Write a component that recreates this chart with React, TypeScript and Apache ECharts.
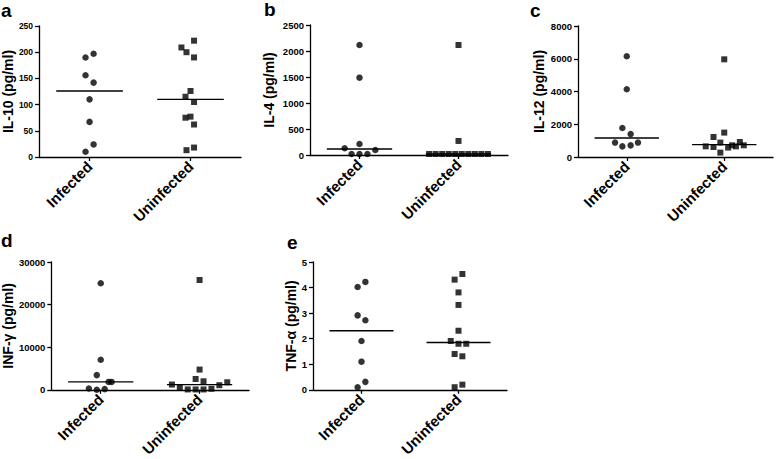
import React, { useEffect, useRef } from "react";
import * as echarts from "echarts";

const categories = ["Infected", "Uninfected"];

// Panel a: IL-10
const il10Inf = [190, 197, 156, 142, 110, 67, 24, 10];
const il10InfJit = [-0.04, 0.04, -0.04, 0.04, 0, 0, 0.04, -0.04];
const il10Uninf = [222, 209, 200, 190, 126, 115, 105, 75, 77, 62, 18, 13];
const il10UninfJit = [0.035, -0.09, -0.04, 0.035, 0, -0.05, 0.035, -0.05, 0, 0.035, 0.035, -0.04];
const il10Medians = [126, 110];

// Panel b: IL-4
const il4Inf = [2115, 1487, 211, 129, 96, 19, 19, 19];
const il4InfJit = [0, 0, 0, -0.15, 0.16, -0.08, 0, 0.08];
const il4Uninf = [2115, 270, 19, 19, 19, 19, 19, 19, 19, 19, 19, 19];
const il4UninfJit = [0, 0, -0.297, -0.231, -0.165, -0.099, -0.033, 0.033, 0.099, 0.165, 0.231, 0.297];
const il4Medians = [115, 19];

// Panel c: IL-12
const il12Inf = [6150, 4135, 1770, 1400, 880, 650, 710, 880];
const il12InfJit = [0, 0, -0.045, 0.04, -0.12, -0.045, 0.04, 0.115];
const il12Uninf = [5965, 1490, 1220, 650, 610, 880, 268, 575, 714, 650, 916, 714];
const il12UninfJit = [0, 0, -0.11, -0.19, -0.11, -0.04, -0.04, 0.04, 0.08, 0.12, 0.16, 0.2];
const il12Medians = [1160, 760];

// Panel d: INF-gamma
const infgInf = [25000, 7040, 3440, 1840, 1840, 300, 0, 150];
const infgInfJit = [0, 0, -0.04, 0.08, 0.11, -0.12, -0.04, 0.04];
const infgUninf = [25780, 4743, 2524, 1989, 1224, 612, 77, 77, 77, 230, 1071, 1760];
const infgUninfJit = [0, 0, -0.04, 0.04, -0.28, -0.2, -0.12, -0.04, 0.04, 0.12, 0.2, 0.28];
const infgMedians = [1840, 1224];

// Panel e: TNF-alpha
const tnfInf = [4.22, 4.02, 2.91, 2.72, 1.91, 1.1, 0.31, 0.1];
const tnfInfJit = [0.04, -0.04, -0.04, 0.04, 0, 0, 0.04, -0.04];
const tnfUninf = [4.53, 4.31, 3.81, 3.32, 2.31, 1.91, 1.8, 1.8, 1.4, 1.31, 0.1, 0.2];
const tnfUninfJit = [0.04, -0.04, 0, 0, 0, -0.08, 0, 0.08, -0.04, 0.04, -0.04, 0.04];
const tnfMedians = [2.31, 1.85];

const yNames = ["IL-10 (pg/ml)", "IL-4 (pg/ml)", "IL-12 (pg/ml)", "INF-γ (pg/ml)", "TNF-α (pg/ml)"];
const panelLetters = ["a", "b", "c", "d", "e"];
const yMax = [250, 2500, 8000, 30000, 5];
const yInterval = [50, 500, 2000, 10000, 1];

const FONT = "'Liberation Sans', Arial, sans-serif";

export default function App() {
  const ref = useRef<HTMLDivElement>(null);
  useEffect(() => {
    if (!ref.current) return;
    const chart = echarts.init(ref.current, undefined, { renderer: "svg" });

    const panels = [
      { inf: il10Inf, infJ: il10InfJit, un: il10Uninf, unJ: il10UninfJit, med: il10Medians },
      { inf: il4Inf, infJ: il4InfJit, un: il4Uninf, unJ: il4UninfJit, med: il4Medians },
      { inf: il12Inf, infJ: il12InfJit, un: il12Uninf, unJ: il12UninfJit, med: il12Medians },
      { inf: infgInf, infJ: infgInfJit, un: infgUninf, unJ: infgUninfJit, med: infgMedians },
      { inf: tnfInf, infJ: tnfInfJit, un: tnfUninf, unJ: tnfUninfJit, med: tnfMedians },
    ];

    const grids = [
      { left: 39, top: 26, width: 202, height: 131 },
      { left: 310, top: 25, width: 198, height: 130 },
      { left: 578, top: 26, width: 195, height: 131 },
      { left: 50, top: 262, width: 199, height: 131 },
      { left: 313, top: 262, width: 194, height: 131 },
    ];
    const nameGaps = [22, 34, 32, 34, 14];
    const tickFont = [8.5, 9.5, 9.5, 9.5, 9.5];
    const letterPos = [
      { left: 1, top: 1 },
      { left: 264, top: 0 },
      { left: 530, top: 1 },
      { left: 1, top: 231 },
      { left: 287, top: 233 },
    ];

    const axisLine = { show: true, lineStyle: { color: "#000", width: 1.3 } };
    const xAxes: any[] = [];
    const yAxes: any[] = [];
    const series: any[] = [];
    const HALF = 0.33;

    panels.forEach((p, i) => {
      xAxes.push({
        type: "category",
        gridIndex: i,
        data: categories,
        boundaryGap: true,
        axisLine,
        axisTick: { show: true, alignWithLabel: true, length: 4, lineStyle: { color: "#000", width: 1.3 } },
        axisLabel: {
          rotate: 45,
          margin: 7,
          color: "#000",
          fontWeight: "bold",
          fontSize: 15,
          fontFamily: FONT,
          interval: 0,
        },
        splitLine: { show: false },
      });
      xAxes.push({
        type: "value",
        gridIndex: i,
        min: 0,
        max: 2,
        show: false,
      });
      yAxes.push({
        type: "value",
        gridIndex: i,
        min: 0,
        max: yMax[i],
        interval: yInterval[i],
        name: yNames[i],
        nameLocation: "middle",
        nameGap: nameGaps[i],
        nameTextStyle: { color: "#000", fontWeight: "bold", fontSize: 14, fontFamily: FONT },
        axisLine,
        axisTick: { show: true, length: 4, lineStyle: { color: "#000", width: 1.3 } },
        axisLabel: {
          color: "#000",
          fontWeight: "bold",
          fontSize: tickFont[i],
          fontFamily: FONT,
          margin: 6,
          formatter: (v: number) => String(v),
        },
        splitLine: { show: false },
      });
      const xIdx = i * 2 + 1;
      series.push({
        type: "scatter",
        xAxisIndex: xIdx,
        yAxisIndex: i,
        symbol: "circle",
        symbolSize: 6.5,
        itemStyle: { color: "#000" },
        data: p.inf.map((v, k) => [0.5 + p.infJ[k], v]),
        z: 3,
      });
      series.push({
        type: "scatter",
        xAxisIndex: xIdx,
        yAxisIndex: i,
        symbol: "rect",
        symbolSize: 6,
        itemStyle: { color: "#000" },
        data: p.un.map((v, k) => [1.5 + p.unJ[k], v]),
        z: 3,
      });
      p.med.forEach((m, g) => {
        const c = 0.5 + g;
        series.push({
          type: "line",
          xAxisIndex: xIdx,
          yAxisIndex: i,
          showSymbol: false,
          symbol: "none",
          lineStyle: { color: "#000", width: 1.3 },
          data: [
            [c - HALF, m],
            [c + HALF, m],
          ],
          z: 2,
        });
      });
    });

    chart.setOption({
      animation: false,
      backgroundColor: "#fff",
      title: panelLetters.map((t, i) => ({
        text: t,
        left: letterPos[i].left,
        top: letterPos[i].top,
        padding: 0,
        textStyle: { color: "#000", fontWeight: "bold", fontSize: 19, fontFamily: FONT },
      })),
      grid: grids.map((g) => ({ ...g, containLabel: false })),
      xAxis: xAxes,
      yAxis: yAxes,
      series,
    });

    return () => chart.dispose();
  }, []);

  return (
    <div
      ref={ref}
      style={{ position: "fixed", left: 0, top: 0, width: 778, height: 459, background: "#fff" }}
    />
  );
}
